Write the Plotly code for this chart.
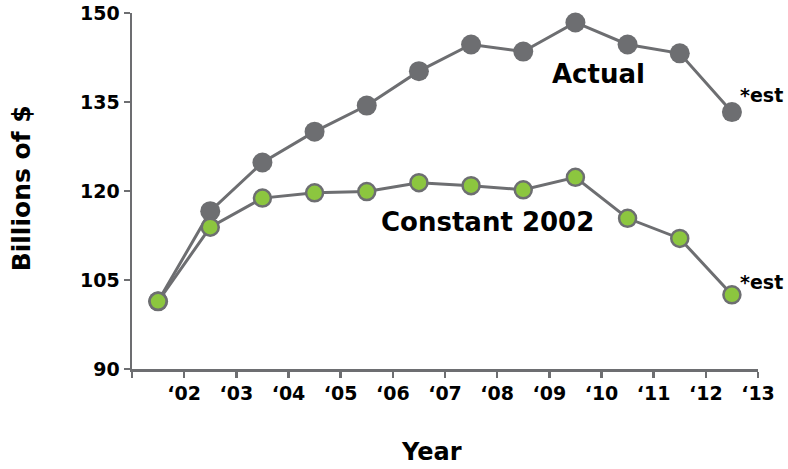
import plotly.graph_objects as go

# Data
x_pos = [2001.5, 2002.5, 2003.5, 2004.5, 2005.5, 2006.5, 2007.5, 2008.5, 2009.5, 2010.5, 2011.5, 2012.5]
actual = [101.4, 116.6, 124.8, 130.0, 134.4, 140.2, 144.7, 143.5, 148.4, 144.7, 143.2, 133.3]
constant_2002 = [101.4, 113.9, 118.8, 119.7, 119.9, 121.4, 120.9, 120.2, 122.3, 115.4, 112.0, 102.5]
tick_years = [2001, 2002, 2003, 2004, 2005, 2006, 2007, 2008, 2009, 2010, 2011, 2012, 2013]
tick_labels = ["", "\u201802", "\u201803", "\u201804", "\u201805", "\u201806", "\u201807",
               "\u201808", "\u201809", "\u201810", "\u201811", "\u201812", "\u201813"]
y_ticks = [90, 105, 120, 135, 150]

GRAY = "#6d6e71"
GREEN = "#8cc63f"
FONT = "DejaVu Sans"

fig = go.Figure()
fig.add_trace(go.Scatter(
    x=x_pos, y=actual, mode="lines+markers", name="Actual",
    line=dict(color=GRAY, width=3),
    marker=dict(color=GRAY, size=20, line=dict(width=0)),
    cliponaxis=False, showlegend=False, hoverinfo="skip"))
fig.add_trace(go.Scatter(
    x=x_pos, y=constant_2002, mode="lines+markers", name="Constant 2002",
    line=dict(color=GRAY, width=3),
    marker=dict(color=GREEN, size=17, line=dict(color=GRAY, width=2.5)),
    cliponaxis=False, showlegend=False, hoverinfo="skip"))

fig.update_layout(
    width=788, height=469,
    margin=dict(l=132, r=30, t=13, b=100, autoexpand=False),
    plot_bgcolor="white", paper_bgcolor="white",
    hovermode=False,
    font=dict(family=FONT, color="black"),
    xaxis=dict(range=[2001, 2013], tickvals=tick_years, ticktext=tick_labels, automargin=False,
               showgrid=False, zeroline=False, showline=True, linecolor=GRAY, linewidth=2.5,
               ticks="outside", ticklen=6, tickwidth=2.5, tickcolor=GRAY, fixedrange=True,
               tickfont=dict(family=FONT, size=19, color="black", weight="bold")),
    yaxis=dict(range=[90, 150], tickvals=y_ticks, automargin=False,
               showgrid=False, zeroline=False, showline=True, linecolor=GRAY, linewidth=2.5,
               ticks="outside", ticklen=6, tickwidth=2.5, tickcolor=GRAY, fixedrange=True,
               tickfont=dict(family=FONT, size=19, color="black", weight="bold")),
)

annots = [
    dict(text="Actual", x=2009.94, y=139.8, xref="x", yref="y", font=dict(size=26, weight="bold")),
    dict(text="Constant 2002", x=2007.82, y=114.8, xref="x", yref="y", font=dict(size=26, weight="bold")),
    dict(text="*est", x=2012.62, y=136.2, xref="x", yref="y", xanchor="left", font=dict(size=19, weight="bold")),
    dict(text="*est", x=2012.62, y=104.6, xref="x", yref="y", xanchor="left", font=dict(size=19, weight="bold")),
    dict(text="Year", x=0.479, y=-0.233, xref="paper", yref="paper", font=dict(size=24, weight="bold")),
    dict(text="Billions of $", x=-0.177, y=0.508, xref="paper", yref="paper", textangle=-90,
         font=dict(size=25, weight="bold")),
]
for a in annots:
    a.setdefault("showarrow", False)
    a.setdefault("xanchor", "center")
    a.setdefault("yanchor", "middle")
    a["font"] = dict(family=FONT, color="black", **a["font"])
    fig.add_annotation(**a)

fig.write_html("out.html", config={"displayModeBar": False, "staticPlot": True},
               post_script="document.body.style.margin='0';")
